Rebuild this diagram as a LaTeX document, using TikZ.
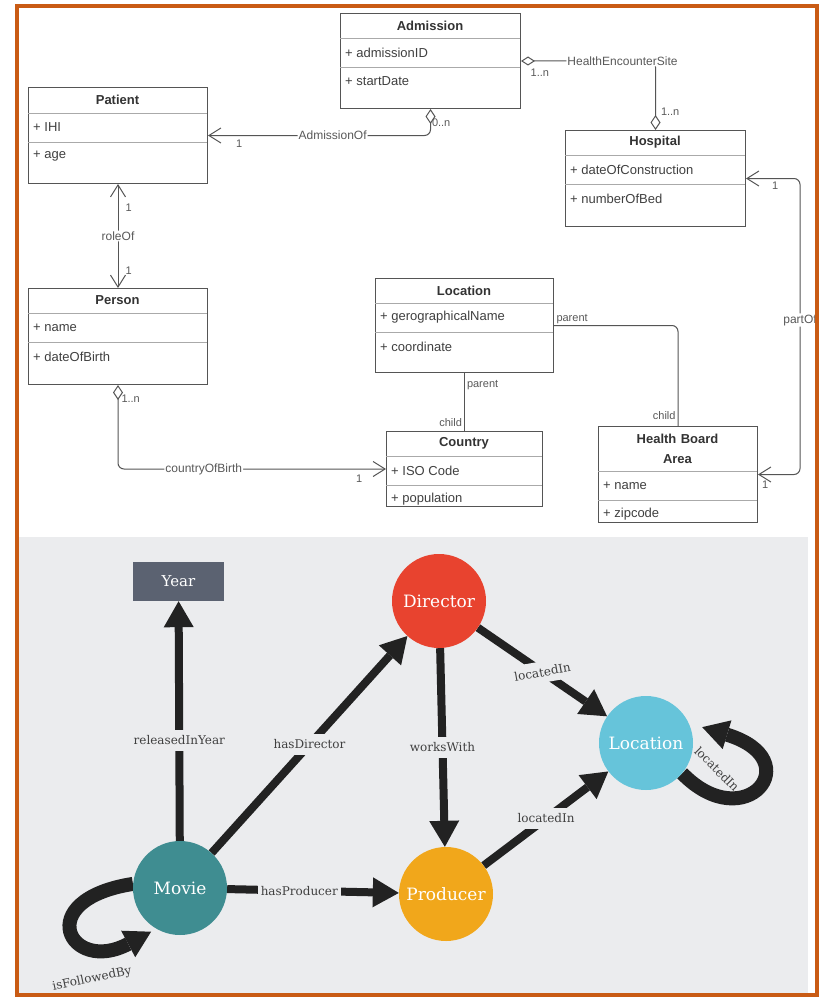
\documentclass[tikz,border=0pt]{standalone}
\usepackage{fontspec}
\setmainfont{Liberation Sans}
\newfontfamily\slab{DejaVu Serif}
\usepackage{tikz}
\usetikzlibrary{calc,positioning,arrows.meta,backgrounds}
\definecolor{frame}{HTML}{C95B14}
\definecolor{panel}{HTML}{EBECEE}
\definecolor{umlc}{HTML}{555555}
\definecolor{ink}{HTML}{222222}
\definecolor{yrc}{HTML}{5B6271}
\definecolor{dirc}{HTML}{E8432F}
\definecolor{movc}{HTML}{3F8D91}
\definecolor{proc}{HTML}{F1A71B}
\definecolor{locc}{HTML}{66C4DA}
\tikzset{dm/.tip={Diamond[open,length=15pt,width=10pt]},br/.tip={Straight Barb[length=12pt,width=15pt]},
tr/.tip={Triangle[length=26pt,width=30pt,line width=0pt]},
cl/.style={draw=umlc,line width=1pt,fill=white,inner sep=0pt,anchor=north west},
ti/.style={font=\fontsize{13}{20}\selectfont\bfseries,text=black!80,align=center,inner sep=0pt},
atr/.style={font=\fontsize{13}{15}\selectfont,text=black!75,inner sep=0pt,anchor=west},
asc/.style={draw=umlc,line width=1pt,rounded corners=6pt},
lb/.style={font=\fontsize{12}{14}\selectfont,text=black!65,fill=white,inner sep=1pt},
mu/.style={font=\fontsize{11}{13}\selectfont,text=black!65,inner sep=1pt},
gn/.style={circle,minimum size=94pt,inner sep=0pt,text=white,font=\slab\fontsize{17}{20}\selectfont},
ge/.style={draw=ink,line width=8pt,-tr},
gl/.style={font=\slab\fontsize{12}{14}\selectfont,text=black!75,fill=panel,inner xsep=3pt,inner ysep=6pt}}
\begin{document}
\begin{tikzpicture}[x=1pt,y=-1pt]
	\useasboundingbox (0,0) rectangle (825,998);
	\foreach \n/\x/\y/\w/\h/\s/\t/\a/\b in {
			adm/340/13/180/95/25/Admission/admissionID/startDate,
			pat/28/87/179/96/26/Patient/IHI/age,
			hos/565/130/180/96/25/Hospital/dateOfConstruction/numberOfBed,
			per/28/288/179/96/25/Person/name/dateOfBirth,
			loc/375/278/178/94/25/Location/gerographicalName/coordinate,
			cou/386/431/156/75/25/Country/ISO Code/population,
			hba/598/426/159/96/45/{Health Board\\Area}/name/zipcode
		}
	{
		\node[cl,minimum width=\w*1pt,minimum height=\h*1pt] (\n) at (\x,\y) {};
		\draw[umlc!50] (\x,\y+\s) -- +(\w,0) (\x,\y+\s+29) -- +(\w,0);
		\node[ti,text width=\w*1pt-4pt] (\n-t) at (\x+\w/2,\y+\s/2) {\t};
		\node[atr] (\n-a) at (\x+5,\y+\s+14.5) {+ \a};
		\node[atr] (\n-b) at (\x+5,\y+\s+43.5) {+ \b};
	}
	\draw[asc,dm-br] (adm.south) |- node[mu,pos=.25,right]{0..n} node[lb,pos=.72]{AdmissionOf} node[mu,pos=.93,below=3pt]{1} (pat.east);
	\draw[asc,{Diamond[open,length=14pt,width=9pt]}-dm] (adm.east) -| node[mu,pos=.07,below=6pt]{1..n} node[lb,pos=.5,xshift=-33pt]{HealthEncounterSite} node[mu,pos=.87,right=4pt]{1..n} (hos.north);
	\draw[asc,br-br] (pat.south) -- node[mu,pos=.23,right=6pt]{1} node[lb]{roleOf} node[mu,pos=.83,right=6pt]{1} (per.north);
	\draw[asc,dm-br] (per.south) |- node[mu,pos=.08,right=2pt]{1..n} node[lb,pos=.66]{countryOfBirth} node[mu,pos=.95,below=4pt]{1} (cou.west);
	\draw[asc] (loc.south) -- node[mu,pos=.2,right=1pt]{parent} node[mu,pos=.85,left=1pt]{child} (cou.north);
	\draw[asc] (loc.east) -| node[mu,pos=0,above right=0pt and 1pt]{parent} node[mu,pos=.95,left=1pt]{child} (hba.north);
	\coordinate (pof) at (800,320);
	\draw[asc,br-br] (hos.east) -| (pof) node[lb]{partOf} |- (hba.east);
	\node[mu,below right=2pt and 25pt of hos.east] (hos-m) {1};
	\node[mu,below right=5pt and 3pt of hba.east] (hba-m) {1};
	\node[gn,fill=movc] (mov) at (180,888) {Movie};
	\node[fill=yrc,minimum width=91pt,minimum height=39pt,text=white,font=\slab\fontsize{15}{18}\selectfont] (yr) at (178.5,581.5) {Year};
	\node[gn,fill=dirc] (dir) at (439,601) {Director};
	\node[gn,fill=proc] (prd) at (446,894) {Producer};
	\node[gn,fill=locc] (lct) at (646,743) {Location};
	\node[gl,fill=none,rotate=12] (mov-l) at (92,979) {isFollowedBy};
	\node[gl,fill=none,inner sep=0pt,rotate=-45] (lct-l) at (717,769) {locatedIn};
	\begin{scope}[on background layer]
		\fill[white] (0,0) rectangle (825,998);
		\fill[panel] (19,537) rectangle (808,995);
		\draw[ge] (mov) -- node[gl,pos=.42]{releasedInYear} (yr);
		\draw[ge] (mov) -- node[gl]{hasDirector} (dir);
		\draw[ge] (mov) -- node[gl,pos=.42]{hasProducer} (prd);
		\draw[ge] (dir) -- node[gl]{worksWith} (prd);
		\draw[ge] (dir) -- node[gl,rotate=10]{locatedIn} (lct);
		\draw[ge] (prd) -- node[gl]{locatedIn} (lct);
		\draw[ge,line width=14pt,shorten >=6pt] (mov.175) .. controls (30,900) and (70,975) .. (mov.240);
		\draw[ge,line width=14pt,shorten >=14pt] (lct.-40) .. controls (745,838) and (810,760) .. (lct.25);
	\end{scope}
	\draw[frame,line width=4pt] (17,6) rectangle (817,995);
\end{tikzpicture}
\end{document}
